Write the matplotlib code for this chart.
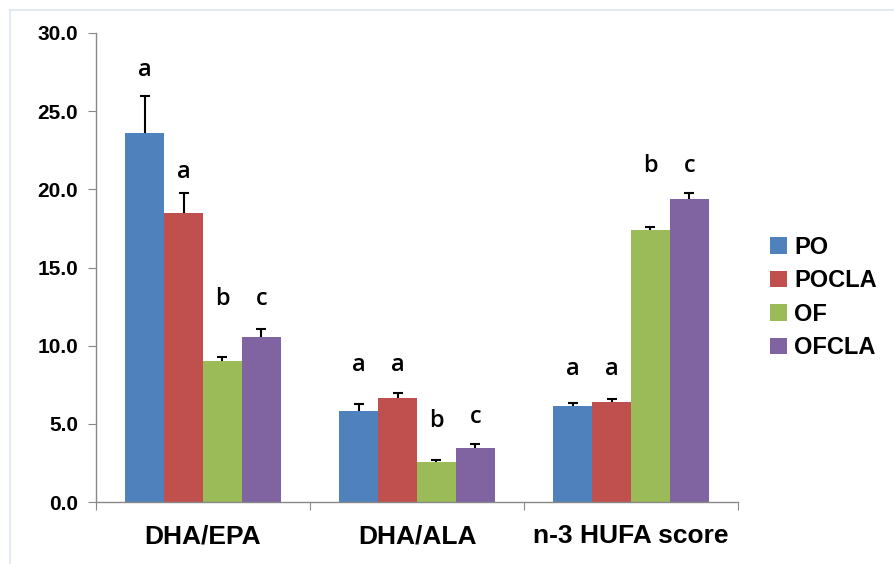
import numpy as np
import matplotlib.pyplot as plt
from matplotlib.lines import Line2D

categories = ["DHA/EPA", "DHA/ALA", "n-3 HUFA score"]
groups = ["PO", "POCLA", "OF", "OFCLA"]
colors = ["#4F81BD", "#C0504D", "#9BBB59", "#8064A2"]

means = {
    "PO": [23.6, 5.82, 6.14],
    "POCLA": [18.5, 6.67, 6.40],
    "OF": [9.02, 2.58, 17.40],
    "OFCLA": [10.56, 3.48, 19.39],
}
errors = {
    "PO": [2.4, 0.45, 0.17],
    "POCLA": [1.25, 0.33, 0.20],
    "OF": [0.28, 0.10, 0.19],
    "OFCLA": [0.50, 0.21, 0.40],
}
letters = {
    "PO": ["a", "a", "a"],
    "POCLA": ["a", "a", "a"],
    "OF": ["b", "b", "b"],
    "OFCLA": ["c", "c", "c"],
}
# baseline heights of the significance letters
letter_y = {
    "PO": [27.25, 8.4, 8.1],
    "POCLA": [20.7, 8.4, 8.1],
    "OF": [12.6, 4.8, 21.1],
    "OFCLA": [12.6, 5.05, 21.1],
}

fig = plt.figure(figsize=(8.94, 5.64), dpi=100)
ax = fig.add_axes([0.1074, 0.1099, 0.7181, 0.8316])

x = np.arange(len(categories))
w = 0.182
for i, g in enumerate(groups):
    pos = x + (i - 1.5) * w
    err = [np.zeros(len(categories)), errors[g]]
    ax.bar(pos, means[g], width=w, color=colors[i], label=g, zorder=2)
    eb = ax.errorbar(pos, means[g], yerr=err, fmt="none", ecolor="black",
                     elinewidth=1.5, capsize=3.5, capthick=1.5, zorder=3)
    eb[1][0].set_visible(False)  # no cap at the bar top
    for j in range(len(categories)):
        ax.text(pos[j], letter_y[g][j], letters[g][j], ha="center", va="baseline",
                fontsize=17, family="Open Sans", fontweight="semibold", color="black")

ax.set_xlim(-0.5, 2.5)
ax.set_ylim(0, 30)
ax.set_yticks(np.arange(0, 31, 5))
ax.set_yticklabels([f"{v:.1f}" for v in np.arange(0, 31, 5)],
                   fontsize=15, fontweight="bold", family="Liberation Sans")
ax.set_xticks([-0.5, 0.5, 1.5, 2.5])
ax.set_xticklabels([])
ax.set_xticks(x, minor=True)
ax.set_xticklabels(categories, minor=True, fontsize=19, fontweight="bold",
                   family="Liberation Sans")
ax.tick_params(axis="x", which="minor", length=0, pad=16)
ax.tick_params(axis="x", which="major", length=6, color="#888888", direction="out")
ax.tick_params(axis="y", length=6, color="#888888", pad=7)

for s in ["top", "right"]:
    ax.spines[s].set_visible(False)
for s in ["left", "bottom"]:
    ax.spines[s].set_color("#888888")
    ax.spines[s].set_linewidth(1.0)

leg = ax.legend(loc="upper left", bbox_to_anchor=(0.838, 0.62), bbox_transform=fig.transFigure,
                frameon=False, handlelength=0.7, handleheight=0.7, handletextpad=0.3,
                labelspacing=0.45, prop={"family": "Liberation Sans", "weight": "bold", "size": 17})

# light frame around the picture
fig.add_artist(Line2D([10 / 894, 1], [1 - 10 / 564, 1 - 10 / 564], color="#DCE6F0", lw=1.2))
fig.add_artist(Line2D([10 / 894, 10 / 894], [0, 1 - 10 / 564], color="#DCE6F0", lw=1.2))

fig.savefig("out.png", dpi=100)
